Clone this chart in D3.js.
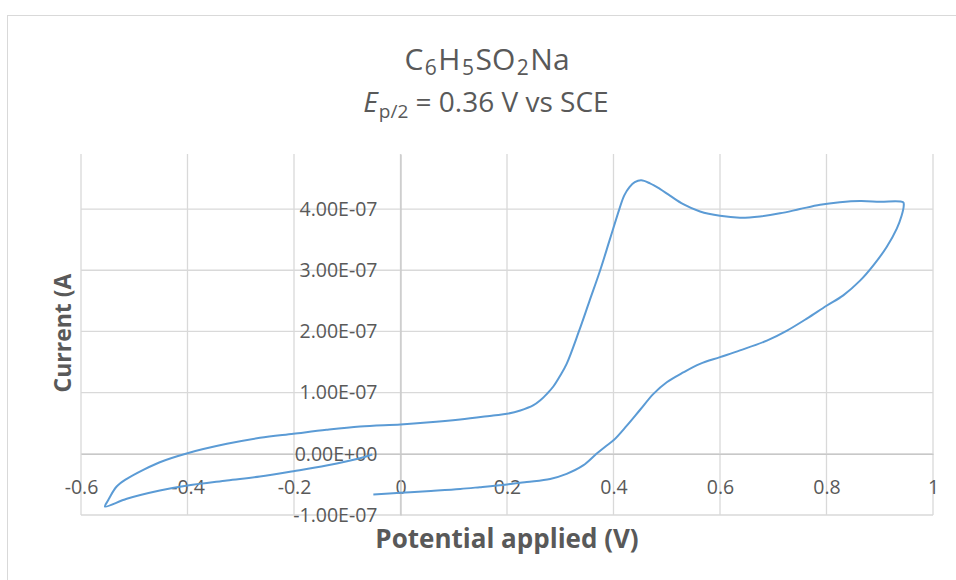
<!DOCTYPE html>
<html>
<head>
<meta charset="utf-8">
<script src="https://cdn.jsdelivr.net/npm/d3@7"></script>
<style>
  html, body { margin: 0; padding: 0; background: #ffffff; }
  svg { display: block; }
  text { font-family: "Open Sans", "Noto Sans", sans-serif; fill: #595959; }
</style>
</head>
<body>
<svg id="chart" width="956" height="580"></svg>
<script>
// ---- data ----
const potential = [
  -0.053, -0.076, -0.139, -0.201, -0.264, -0.326, -0.400, -0.452, -0.514, -0.555,
  -0.549, -0.546, -0.533, -0.514, -0.483, -0.452, -0.400, -0.326, -0.264, -0.201,
  -0.139, -0.076, 0.000, 0.049, 0.112, 0.174, 0.200, 0.225, 0.249, 0.262,
  0.275, 0.287, 0.300, 0.312, 0.335, 0.355, 0.375, 0.393, 0.411, 0.420,
  0.430, 0.440, 0.452, 0.4685, 0.487, 0.506, 0.531, 0.5625, 0.600, 0.6375,
  0.675, 0.7125, 0.750, 0.788, 0.825, 0.863, 0.900, 0.944,
  0.945, 0.941, 0.932, 0.913, 0.888, 0.863, 0.8315, 0.800, 0.763, 0.725,
  0.688, 0.6375, 0.600, 0.5625, 0.531, 0.500, 0.475, 0.450, 0.425, 0.400,
  0.385, 0.368, 0.343, 0.312, 0.281, 0.237, 0.200, 0.149, 0.112, 0.049,
  0.000, -0.051
];
const current = [
  -0.011e-7, -0.072e-7, -0.191e-7, -0.284e-7, -0.371e-7, -0.436e-7, -0.518e-7, -0.600e-7, -0.735e-7, -0.861e-7,
  -0.760e-7, -0.709e-7, -0.534e-7, -0.409e-7, -0.261e-7, -0.137e-7, 0.010e-7, 0.163e-7, 0.261e-7, 0.327e-7,
  0.392e-7, 0.446e-7, 0.480e-7, 0.510e-7, 0.560e-7, 0.626e-7, 0.654e-7, 0.708e-7, 0.790e-7, 0.870e-7,
  0.980e-7, 1.10e-7, 1.28e-7, 1.47e-7, 2.00e-7, 2.50e-7, 3.00e-7, 3.50e-7, 4.00e-7, 4.22e-7,
  4.36e-7, 4.44e-7, 4.47e-7, 4.42e-7, 4.33e-7, 4.22e-7, 4.08e-7, 3.96e-7, 3.89e-7, 3.86e-7,
  3.88e-7, 3.93e-7, 4.00e-7, 4.07e-7, 4.11e-7, 4.13e-7, 4.12e-7, 4.11e-7,
  4.05e-7, 3.89e-7, 3.68e-7, 3.38e-7, 3.08e-7, 2.83e-7, 2.59e-7, 2.42e-7, 2.21e-7, 2.01e-7,
  1.85e-7, 1.69e-7, 1.58e-7, 1.47e-7, 1.33e-7, 1.17e-7, 0.98e-7, 0.72e-7, 0.46e-7, 0.22e-7,
  0.12e-7, 0.00e-7, -0.19e-7, -0.327e-7, -0.41e-7, -0.46e-7, -0.50e-7, -0.545e-7, -0.575e-7, -0.61e-7,
  -0.637e-7, -0.665e-7
];
const xTicks = [-0.6, -0.4, -0.2, 0, 0.2, 0.4, 0.6, 0.8, 1];
const xTickLabels = ["-0.6", "-0.4", "-0.2", "0", "0.2", "0.4", "0.6", "0.8", "1"];
const yTicks = [-1e-7, 0, 1e-7, 2e-7, 3e-7, 4e-7];
const yTickLabels = ["-1.00E-07", "0.00E+00", "1.00E-07", "2.00E-07", "3.00E-07", "4.00E-07"];

// ---- layout ----
const svg = d3.select("#chart");
const plot = { left: 81, right: 933, top: 154, bottom: 515 };

const x = d3.scaleLinear().domain([-0.6, 1]).range([plot.left, plot.right]);
const y = d3.scaleLinear().domain([-1e-7, 4.9e-7]).range([plot.bottom, plot.top]);

// chart border
svg.append("rect")
  .attr("x", 7.5).attr("y", 15.5).attr("width", 970).attr("height", 600)
  .attr("fill", "none").attr("stroke", "#d9d9d9").attr("stroke-width", 1);

// gridlines
const grid = svg.append("g").attr("stroke", "#d9d9d9").attr("stroke-width", 1.3);
grid.selectAll("line.v").data(xTicks).join("line")
  .attr("x1", d => x(d)).attr("x2", d => x(d))
  .attr("y1", plot.top).attr("y2", plot.bottom);
grid.selectAll("line.h").data(yTicks).join("line")
  .attr("x1", plot.left).attr("x2", plot.right)
  .attr("y1", d => y(d)).attr("y2", d => y(d));

// axes (crossing at zero)
const xAxis = d3.axisBottom(x).tickValues(xTicks)
  .tickFormat((d, i) => xTickLabels[i]).tickSizeInner(0).tickSizeOuter(0).tickPadding(26);
const gx = svg.append("g").attr("transform", `translate(0,${y(0)})`).call(xAxis);
gx.select(".domain").attr("stroke", "#c8c8c8").attr("stroke-width", 1.3);
gx.selectAll("text").attr("font-size", 19.5).attr("font-family", "Open Sans").attr("fill", "#595959");

const yAxis = d3.axisLeft(y).tickValues(yTicks)
  .tickFormat((d, i) => yTickLabels[i]).tickSizeInner(0).tickSizeOuter(0).tickPadding(23);
const gy = svg.append("g").attr("transform", `translate(${x(0)},0)`).call(yAxis);
gy.select(".domain").attr("stroke", "#c8c8c8").attr("stroke-width", 1.3);
gy.selectAll("text").attr("font-size", 19.5).attr("font-family", "Open Sans").attr("fill", "#595959");

// data line
const pts = potential.map((v, i) => [v, current[i]]);
const line = d3.line().x(d => x(d[0])).y(d => y(d[1])).curve(d3.curveCatmullRom.alpha(0.5));
svg.append("path").datum(pts)
  .attr("d", line).attr("fill", "none")
  .attr("stroke", "#5b9bd5").attr("stroke-width", 2).attr("stroke-linejoin", "round");

// title
const t1 = svg.append("text").attr("x", 487).attr("y", 70).attr("text-anchor", "middle").attr("font-size", 30);
t1.append("tspan").text("C");
t1.append("tspan").attr("font-size", 21).attr("dx", 1.5).attr("dy", 5).text("6");
t1.append("tspan").attr("dx", 1.5).attr("dy", -5).text("H");
t1.append("tspan").attr("font-size", 21).attr("dx", 1.5).attr("dy", 5).text("5");
t1.append("tspan").attr("dx", 1.5).attr("dy", -5).text("SO");
t1.append("tspan").attr("font-size", 21).attr("dx", 1.5).attr("dy", 5).text("2");
t1.append("tspan").attr("dx", 1.5).attr("dy", -5).text("Na");

const t2 = svg.append("text").attr("x", 486).attr("y", 112).attr("text-anchor", "middle").attr("font-size", 28);
t2.append("tspan").attr("font-style", "italic").text("E");
t2.append("tspan").attr("font-size", 19).attr("dx", 1).attr("dy", 6).text("p/2");
t2.append("tspan").attr("dy", -6).text(" = 0.36 V vs SCE");

// axis titles
svg.append("text").attr("x", 507).attr("y", 548).attr("text-anchor", "middle")
  .attr("font-size", 26).attr("font-weight", "bold").text("Potential applied (V)");
svg.append("text").attr("transform", "translate(71,333) rotate(-90)").attr("text-anchor", "middle")
  .attr("font-size", 23).attr("font-weight", "bold").text("Current (A");
</script>
</body>
</html>
